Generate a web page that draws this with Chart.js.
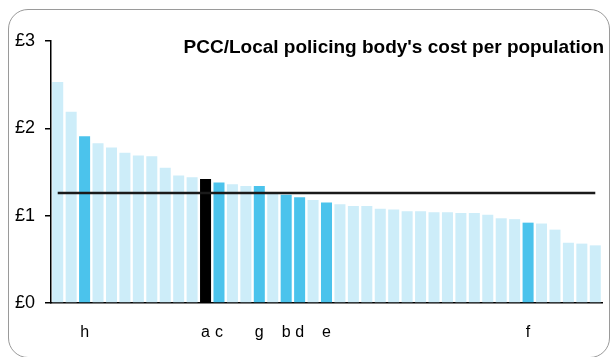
<!DOCTYPE html>
<html>
<head>
<meta charset="utf-8">
<script src="https://cdn.jsdelivr.net/npm/chart.js@4"></script>
<style>
  html, body { margin: 0; padding: 0; background: #fff; overflow: hidden; }
  #wrap { position: relative; width: 610px; height: 357px; }
  #frame { position: absolute; left: 8px; top: 9px; width: 602px; height: 349px; border: 1.5px solid #9a9a9a; border-radius: 20px; box-sizing: border-box; }
  #title { position: absolute; right: 6px; top: 36px; font: bold 19px "Liberation Sans", Arial, sans-serif; line-height: 1.117; color: #000; }
  canvas { position: absolute; left: 0; top: 0; }
</style>
</head>
<body>
<div id="wrap">
  <div id="frame"></div>
  <canvas id="costChart" width="610" height="357"></canvas>
  <div id="title">PCC/Local policing body's cost per population</div>
</div>
<script>
// one bar per PCC / local policing body, sorted high to low
const bodyLabels = ['', '', 'h', '', '', '', '', '', '', '', '', 'a', 'c', '', '', 'g', '', 'b', 'd', '', 'e',
  '', '', '', '', '', '', '', '', '', '', '', '', '', '', 'f', '', '', '', '', ''];
const costPerPop = [2.53, 2.19, 1.91, 1.83, 1.78, 1.72, 1.69, 1.68, 1.55, 1.46, 1.44, 1.42, 1.38, 1.36, 1.34,
  1.34, 1.26, 1.24, 1.21, 1.18, 1.15, 1.13, 1.11, 1.11, 1.08, 1.07, 1.05, 1.05, 1.04, 1.04, 1.03, 1.03, 1.01,
  0.97, 0.96, 0.92, 0.91, 0.84, 0.69, 0.68, 0.66];
const averageCost = 1.26;
const yTicks = [0, 1, 2, 3];

const barColors = bodyLabels.map(l => l === 'a' ? '#000000' : (l ? '#4bc3ec' : '#cdedf9'));

const ctx = document.getElementById('costChart').getContext('2d');
new Chart(ctx, {
  type: 'bar',
  data: {
    labels: bodyLabels,
    datasets: [
      {
        type: 'line',
        data: bodyLabels.map(() => averageCost),
        borderColor: '#1a1a1a',
        borderWidth: 2.5,
        pointRadius: 0,
        order: 0
      },
      {
        data: costPerPop,
        backgroundColor: barColors,
        barPercentage: 0.82,
        categoryPercentage: 1,
        order: 1
      }
    ]
  },
  options: {
    responsive: false,
    animation: false,
    layout: { padding: { top: 41, right: 8, left: 0, bottom: 0 } },
    plugins: { legend: { display: false }, tooltip: { enabled: false } },
    scales: {
      x: {
        grid: { display: false, drawTicks: false },
        border: { display: true, color: '#000', width: 1.5 },
        ticks: {
          // tall line height pushes the letters down without adding side padding
          autoSkip: false, maxRotation: 0, padding: 0, color: '#000',
          font: { family: '"Liberation Sans", Arial, sans-serif', size: 16, lineHeight: 3.75 }
        },
        afterFit: s => { s.height = 54; }
      },
      y: {
        min: 0,
        max: 3,
        afterBuildTicks: s => { s.ticks = yTicks.map(v => ({ value: v })); },
        grid: { drawOnChartArea: false, drawTicks: true, tickLength: 6, color: '#000', lineWidth: 1.5 },
        border: { display: true, color: '#000', width: 1.5 },
        ticks: {
          padding: 10, color: '#000',
          font: { family: '"Liberation Sans", Arial, sans-serif', size: 18 },
          callback: v => '£' + v
        },
        afterFit: s => { s.width = 51; }
      }
    }
  }
});
</script>
</body>
</html>
